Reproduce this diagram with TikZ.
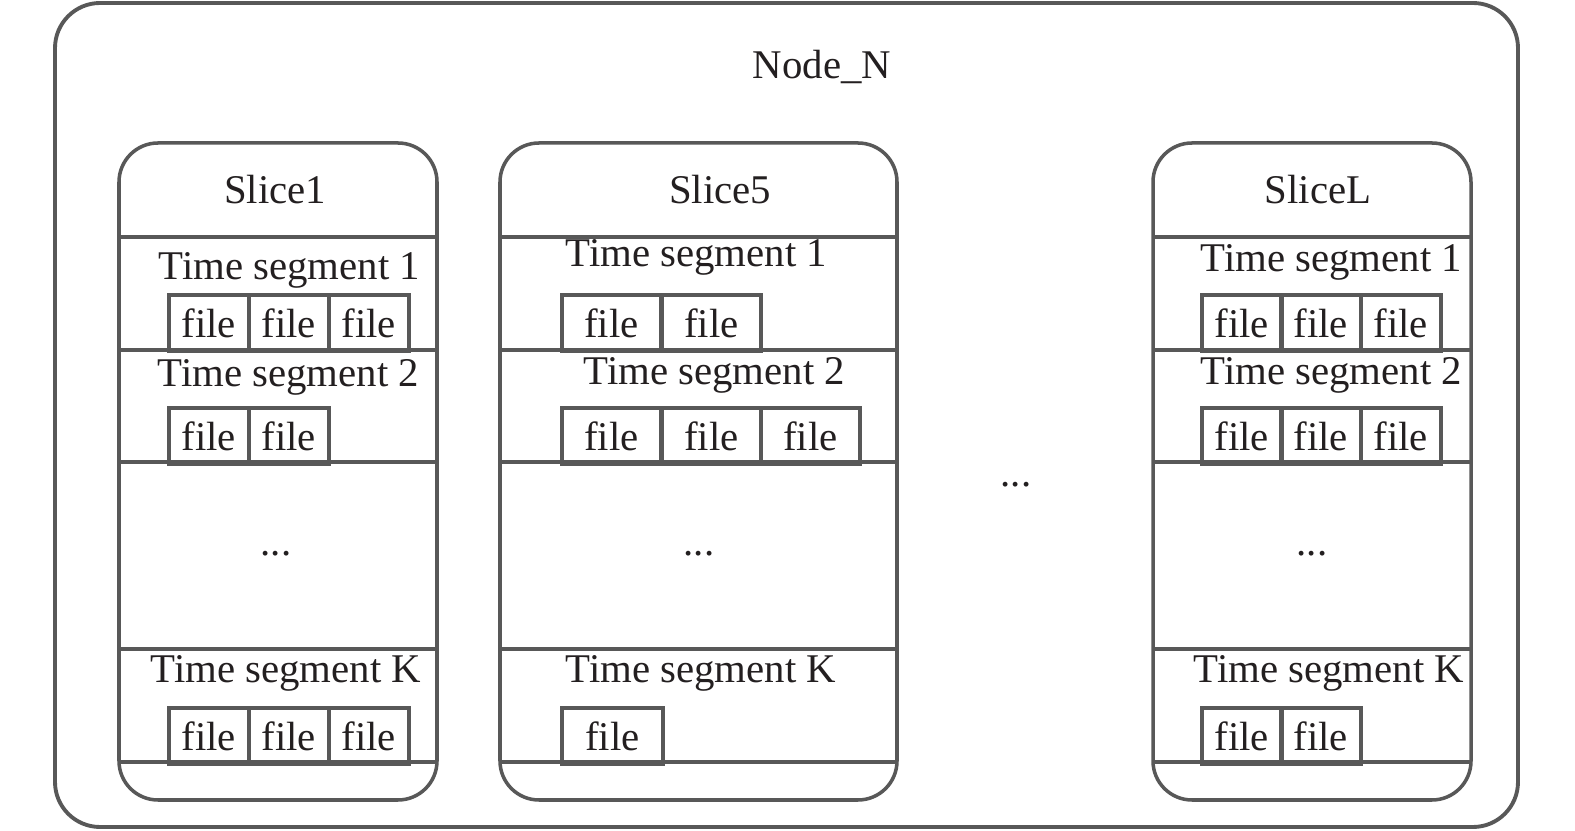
\documentclass[tikz,border=0pt]{standalone}
\usepackage{fontspec}
\setmainfont{Liberation Serif}
\usepackage{tikz}
\definecolor{linegray}{RGB}{88,88,88}
\definecolor{ink}{RGB}{35,31,32}

\tikzset{
    outerbox/.style={draw=linegray, line width=1.1pt, rounded corners=0.45cm},
    slicebox/.style={draw=linegray, line width=1pt, rounded corners=0.39cm},
    rowline/.style={draw=linegray, line width=1pt},
    filebox/.style={draw=linegray, line width=1pt, minimum width=#1, minimum height=0.565cm,
        inner sep=0pt, anchor=north west, text=ink},
    filebox/.default=0.8cm,
    seglabel/.style={anchor=base west, inner sep=0pt, text=ink},
    title/.style={anchor=base, inner sep=0pt, text=ink}
}

\begin{document}
\begin{tikzpicture}[x=0.01cm, y=-0.01cm, font=\fontsize{11.6}{13}\selectfont]
    \useasboundingbox (0,0) rectangle (1575,831);

    % Outer node
    \draw[outerbox] (55,3) rectangle (1518,827);
    \node[title] (noden) at (822,79) {Node\_N};

    % Slices: left/right/name/label x/dots x
    \foreach \l/\r/\nm/\lx/\dx in {119/437/Slice1/275/276, 500/897/Slice5/720/699, 1153/1471/SliceL/1318/1312} {
        \draw[slicebox] (\l,143) rectangle (\r,800);
        \foreach \y in {237,350,462,649,762}
            \draw[rowline] (\l,\y) -- (\r,\y);
        \node[title] (\nm) at (\lx,204) {\nm};
        \node[title] (\nm-dots) at (\dx,556) {...};
    }
    \node[title] (middots) at (1016,487) {...};

    % Time segment labels
    \node[seglabel] (s1t1) at (158,280) {Time segment 1};
    \node[seglabel] (s1t2) at (157,387) {Time segment 2};
    \node[seglabel] (s1tk) at (150,683) {Time segment K};
    \node[seglabel] (s5t1) at (565,267) {Time segment 1};
    \node[seglabel] (s5t2) at (583,385) {Time segment 2};
    \node[seglabel] (s5tk) at (565,683) {Time segment K};
    \node[seglabel] (sLt1) at (1200,272) {Time segment 1};
    \node[seglabel] (sLt2) at (1200,385) {Time segment 2};
    \node[seglabel] (sLtk) at (1193,683) {Time segment K};

    % Files of Slice1
    \foreach \x [count=\i] in {167,247,327}
        \node[filebox] (s1a\i) at (\x,293) {file};
    \foreach \x [count=\i] in {167,247}
        \node[filebox] (s1b\i) at (\x,406) {file};
    \foreach \x [count=\i] in {167,247,327}
        \node[filebox] (s1k\i) at (\x,706) {file};

    % Files of Slice5
    \foreach \x [count=\i] in {560,660}
        \node[filebox=0.99cm] (s5a\i) at (\x,293) {file};
    \foreach \x [count=\i] in {560,660,759}
        \node[filebox=0.99cm] (s5b\i) at (\x,406) {file};
    \foreach \x [count=\i] in {560}
        \node[filebox=1.01cm] (s5k\i) at (\x,706) {file};

    % Files of SliceL
    \foreach \x [count=\i] in {1200,1279,1359}
        \node[filebox] (sLa\i) at (\x,293) {file};
    \foreach \x [count=\i] in {1200,1279,1359}
        \node[filebox] (sLb\i) at (\x,406) {file};
    \foreach \x [count=\i] in {1200,1279}
        \node[filebox] (sLk\i) at (\x,706) {file};
\end{tikzpicture}
\end{document}
